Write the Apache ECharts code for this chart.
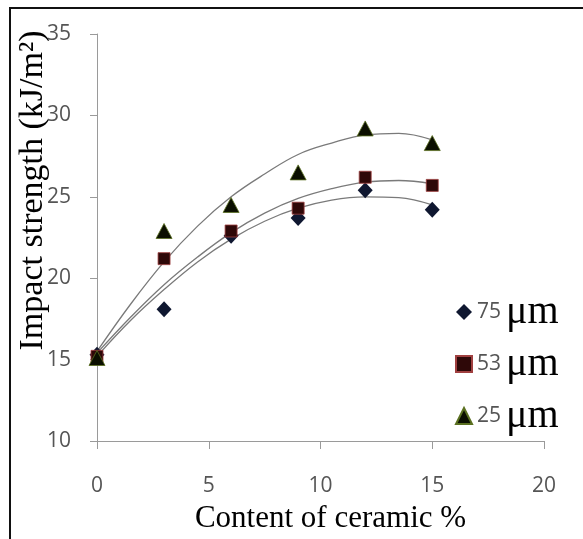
<!DOCTYPE html>
<html>
<head>
<meta charset="utf-8">
<title>Impact strength</title>
<script src="https://cdn.jsdelivr.net/npm/echarts@6/dist/echarts.min.js"></script>
<style>
  html, body { margin: 0; padding: 0; background: #fff; }
  #chart { width: 583px; height: 539px; }
</style>
</head>
<body>
<div id="chart"></div>
<script>
// measured points
var content = [0, 3, 6, 9, 12, 15];
var s75 = [15.3, 18.1, 22.6, 23.7, 25.4, 24.2];
var s53 = [15.2, 21.2, 22.9, 24.3, 26.2, 25.7];
var s25 = [15.1, 22.9, 24.5, 26.5, 29.2, 28.3];

// trend curves
var trendX = [0, 1.5, 3, 4.5, 6, 7.5, 9, 10.5, 12, 13.5, 15];
var trend75 = [15.2, 17.4, 19.3, 21.0, 22.4, 23.5, 24.3, 24.8, 25.0, 24.95, 24.5];
var trend53 = [15.4, 17.6, 19.6, 21.3, 22.8, 24.0, 24.9, 25.5, 25.9, 26.0, 25.8];
var trend25 = [15.5, 18.4, 21.0, 23.2, 25.0, 26.4, 27.6, 28.3, 28.8, 28.9, 28.5];

var yTicks = [10, 15, 20, 25, 30, 35];
var xTicks = [0, 5, 10, 15, 20];

function pairs(xs, ys) {
    return xs.map(function (x, i) { return [x, ys[i]]; });
}

function trend(name, ys) {
    return {
        name: name,
        type: 'line',
        smooth: 0.4,
        showSymbol: false,
        silent: true,
        z: 1,
        lineStyle: { color: '#7a7a7a', width: 1.3 },
        data: pairs(trendX, ys)
    };
}

var myChart = echarts.init(document.getElementById('chart'));

var option = {
    backgroundColor: '#fff',
    animation: false,
    graphic: [
        { type: 'line', shape: { x1: 9, y1: 8, x2: 583, y2: 8 }, style: { stroke: '#111', lineWidth: 2 } },
        { type: 'line', shape: { x1: 10, y1: 8, x2: 10, y2: 539 }, style: { stroke: '#111', lineWidth: 2 } }
    ],
    grid: { left: 97, right: 39, top: 34, bottom: 98, outerBoundsMode: 'none' },
    xAxis: {
        type: 'value',
        min: 0, max: 20, interval: 5,
        name: 'Content of ceramic %',
        nameLocation: 'middle',
        nameGap: 62,
        nameMoveOverlap: false,
        nameTextStyle: { fontFamily: 'Liberation Serif', fontSize: 31, color: '#000', padding: [0, 0, 0, 20] },
        axisLine: { lineStyle: { color: '#9a9a9a' } },
        axisTick: { show: true, inside: false, length: 8, lineStyle: { color: '#9a9a9a' } },
        axisLabel: {
            margin: 35, fontFamily: 'Open Sans', fontSize: 21, color: '#555',
            formatter: function (v) { return xTicks.indexOf(v) >= 0 ? String(v) : ''; }
        },
        splitLine: { show: false }
    },
    yAxis: {
        type: 'value',
        min: 10, max: 35, interval: 5,
        name: 'Impact strength (kJ/m\u00b2)',
        nameLocation: 'middle',
        nameGap: 47,
        nameMoveOverlap: false,
        nameTextStyle: { fontFamily: 'Liberation Serif', fontSize: 34, color: '#000', padding: [0, 0, 0, 94] },
        axisLine: { show: true, lineStyle: { color: '#9a9a9a' } },
        axisTick: { show: true, inside: false, length: 7, lineStyle: { color: '#9a9a9a' } },
        axisLabel: {
            margin: 26, fontFamily: 'Open Sans', fontSize: 21, color: '#555',
            formatter: function (v) { return yTicks.indexOf(v) >= 0 ? String(v) : ''; }
        },
        splitLine: { show: false }
    },
    legend: {
        orient: 'vertical',
        left: 455,
        top: 292,
        padding: 0,
        itemGap: 12,
        itemWidth: 16,
        itemHeight: 16,
        data: [
            { name: '75', icon: 'diamond' },
            { name: '53', icon: 'rect' },
            { name: '25', icon: 'triangle' }
        ],
        formatter: function (name) { return '{n|' + name + '}{u|\u03bcm}'; },
        textStyle: {
            rich: {
                n: { fontFamily: 'Open Sans', fontSize: 21, color: '#555', lineHeight: 40, padding: [0, 5, 0, 0] },
                u: { fontFamily: 'Liberation Serif', fontSize: 40, color: '#000', lineHeight: 40 }
            }
        }
    },
    series: [
        trend('t75', trend75),
        trend('t53', trend53),
        trend('t25', trend25),
        {
            name: '75',
            type: 'scatter',
            symbol: 'diamond',
            symbolSize: [15, 16],
            z: 3,
            itemStyle: { color: '#0f1730', opacity: 1 },
            data: pairs(content, s75)
        },
        {
            name: '53',
            type: 'scatter',
            symbol: 'rect',
            symbolSize: 12,
            z: 3,
            itemStyle: { color: '#2e0808', borderColor: '#a04040', borderWidth: 0.8, opacity: 1 },
            data: pairs(content, s53)
        },
        {
            name: '25',
            type: 'scatter',
            symbol: 'triangle',
            symbolSize: [16, 15],
            z: 3,
            itemStyle: { color: '#0b0f00', borderColor: '#5a7020', borderWidth: 0.8, opacity: 1 },
            data: pairs(content, s25)
        }
    ]
};

myChart.setOption(option, true);
window.onresize = myChart.resize;
</script>
</body>
</html>
